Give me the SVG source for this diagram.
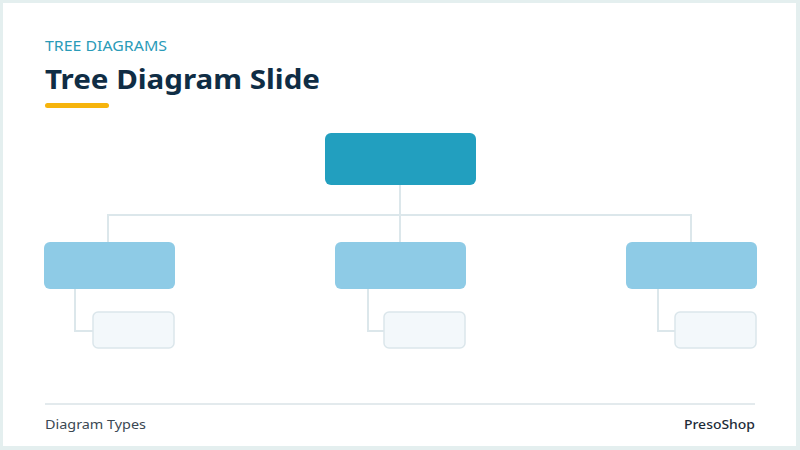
<svg xmlns="http://www.w3.org/2000/svg" width="800" height="450" viewBox="0 0 800 450">
<style>
.conn{fill:none;stroke:#dce7eb;stroke-width:2}
.root{fill:#229fbf}
.l2{fill:#8ecbe6}
.leaf{fill:#f3f8fb;stroke:#dbe6eb;stroke-width:1.5}
.txt{font-family:"Noto Sans","Liberation Sans",sans-serif}
</style>
<rect x="0" y="0" width="800" height="450" fill="#e4efef"/>
<rect x="3" y="3" width="793" height="443" fill="#ffffff"/>
<text class="txt" x="45" y="51" font-size="14" fill="#2a9bb8" textLength="122" lengthAdjust="spacingAndGlyphs">TREE DIAGRAMS</text>
<text class="txt" x="45" y="89" font-size="27" font-weight="bold" fill="#0f2d45" textLength="275" lengthAdjust="spacingAndGlyphs">Tree Diagram Slide</text>
<rect x="45" y="103" width="64" height="5" rx="2.5" fill="#f6b40c"/>
<g id="connectors">
<path class="conn" d="M400 185 V215 M108 242 V215 H691 V242 M400 215 V242"/>
<path class="conn" d="M75 289 V331 H93"/>
<path class="conn" d="M368 289 V331 H384"/>
<path class="conn" d="M658 289 V331 H675"/>
</g>
<g id="root"><rect class="root" x="325" y="133" width="151" height="52" rx="6"/></g>
<g id="b1"><rect class="l2" x="44" y="242" width="131" height="47" rx="6"/></g>
<g id="b2"><rect class="l2" x="335" y="242" width="131" height="47" rx="6"/></g>
<g id="b3"><rect class="l2" x="626" y="242" width="131" height="47" rx="6"/></g>
<g id="c1"><rect class="leaf" x="93" y="312" width="81" height="36" rx="5"/></g>
<g id="c2"><rect class="leaf" x="384" y="312" width="81" height="36" rx="5"/></g>
<g id="c3"><rect class="leaf" x="675" y="312" width="81" height="36" rx="5"/></g>
<line x1="45" y1="404" x2="755" y2="404" stroke="#e3eaed" stroke-width="2"/>
<text class="txt" x="45" y="429" font-size="13" fill="#3b4853" textLength="101" lengthAdjust="spacingAndGlyphs">Diagram Types</text>
<text class="txt" x="684" y="429" font-size="13" font-weight="500" fill="#1d2b38" textLength="71" lengthAdjust="spacingAndGlyphs">PresoShop</text>
</svg>
